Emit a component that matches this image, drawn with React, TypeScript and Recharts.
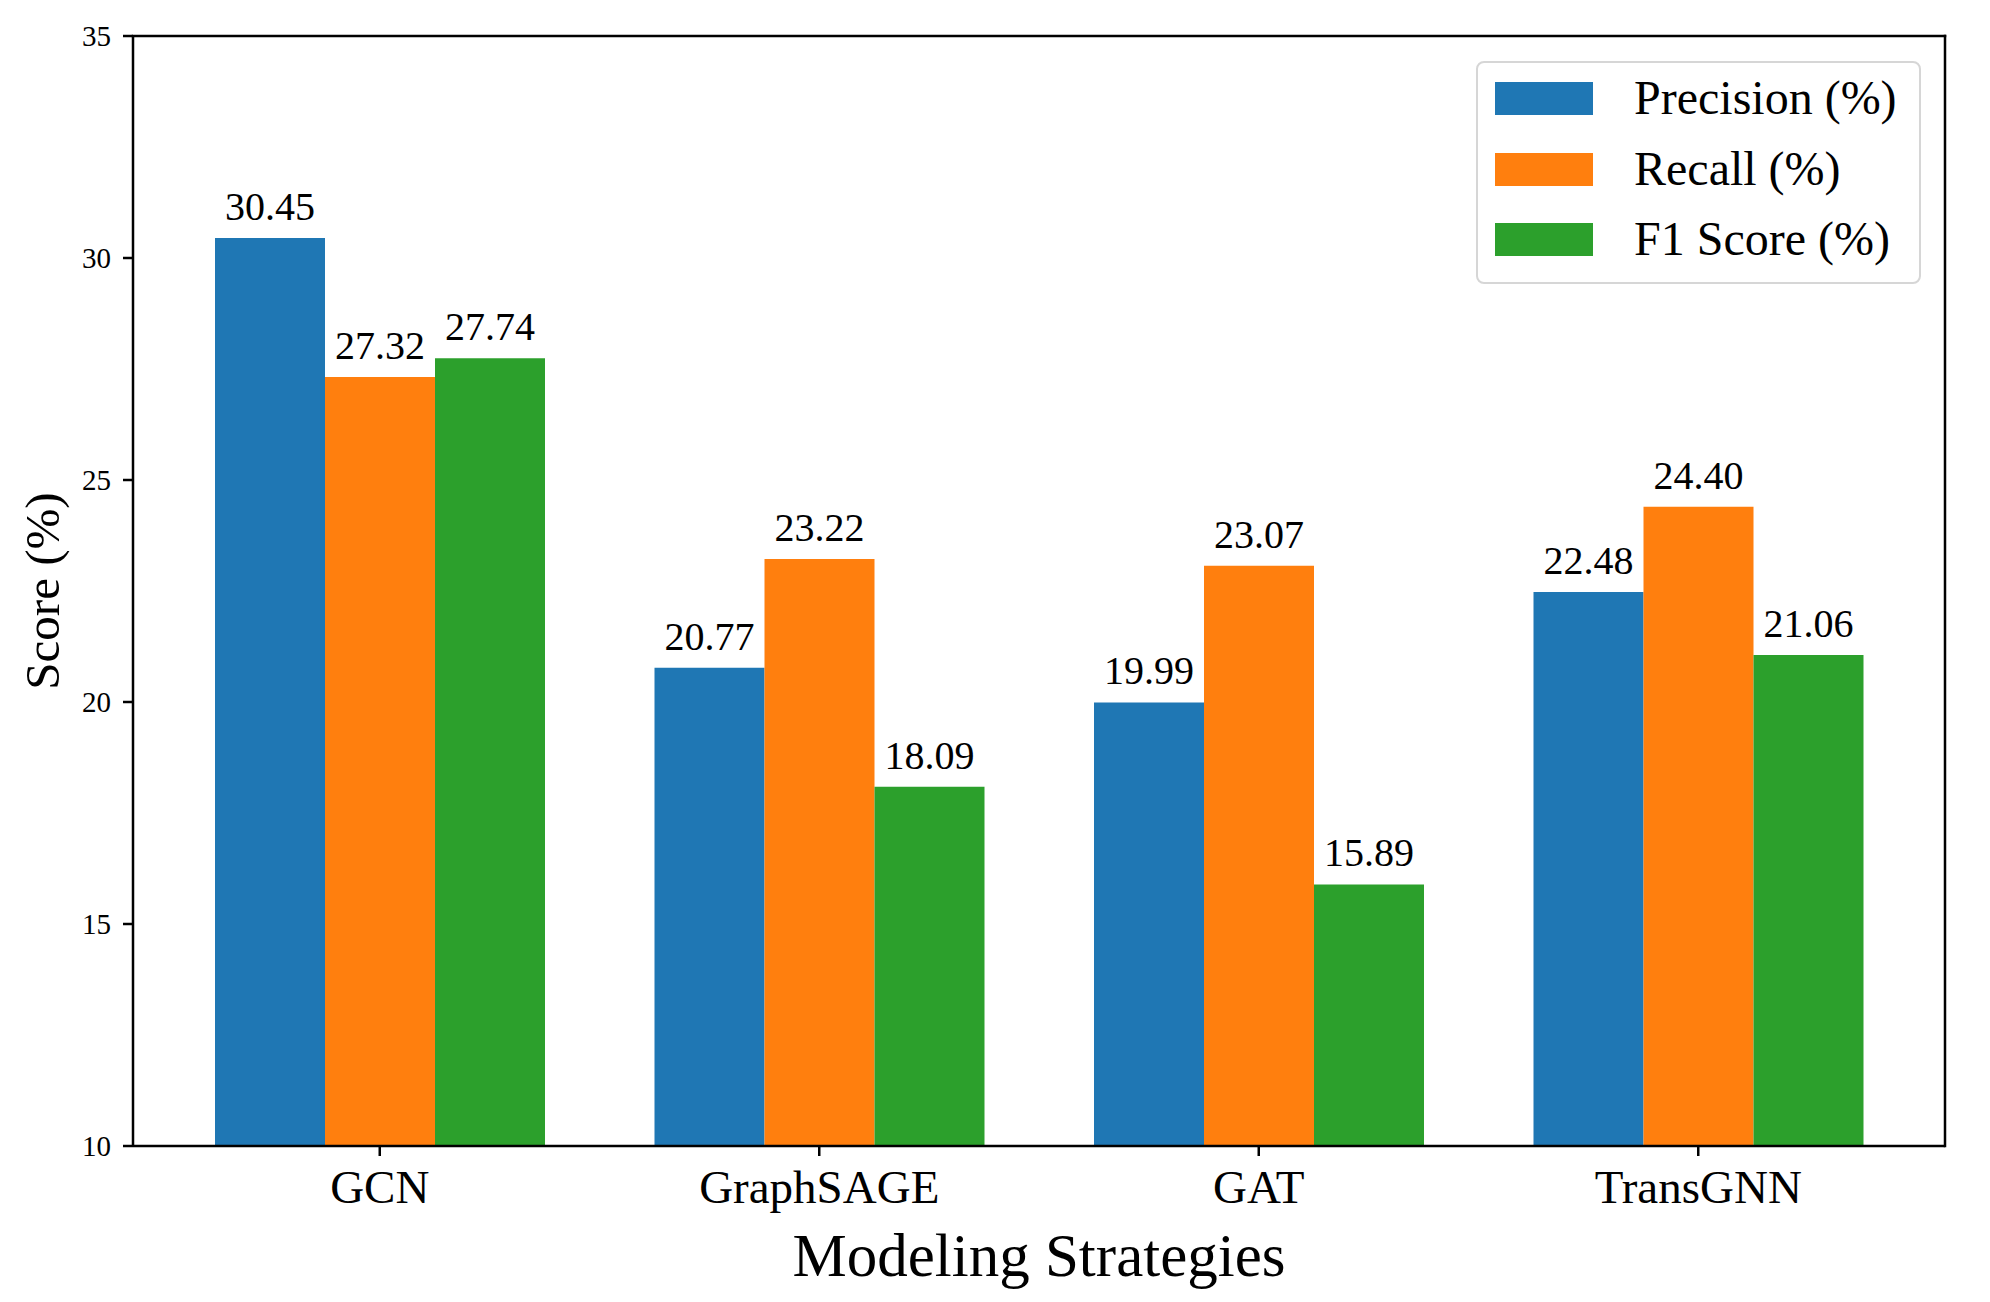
import * as Recharts from 'recharts';
import { BarChart, Bar, XAxis, YAxis, Legend, LabelList } from 'recharts';

// data
const categories = ['GCN', 'GraphSAGE', 'GAT', 'TransGNN'];
const precision = [30.45, 20.77, 19.99, 22.48];
const recall = [27.32, 23.22, 23.07, 24.4];
const f1Score = [27.74, 18.09, 15.89, 21.06];
const yTicks = [10, 15, 20, 25, 30, 35];

const seriesNames = ['Precision (%)', 'Recall (%)', 'F1 Score (%)'];
const seriesKeys = ['precision', 'recall', 'f1'];
const colors = ['#1f77b4', '#ff7f0e', '#2ca02c'];

const data = categories.map((name, i) => ({
  name,
  precision: precision[i],
  recall: recall[i],
  f1: f1Score[i],
}));

const W = 1990;
const H = 1302;
const FONT = '"Liberation Serif", "DejaVu Serif", "Times New Roman", serif';

// plot-area hook (name differs between recharts 3 minor versions)
const usePlotBox: any = (Recharts as any).usePlotArea || (Recharts as any).useOffset;

// top + right spines, like the matplotlib box
function Frame() {
  const a = usePlotBox ? usePlotBox() : null;
  if (!a) return null;
  let x, y, w, h;
  if (a.width != null) {
    x = a.x; y = a.y; w = a.width; h = a.height;
  } else {
    x = a.left; y = a.top; w = W - a.left - a.right; h = H - a.top - a.bottom;
  }
  return (
    <g>
      <line x1={x} y1={y} x2={x + w} y2={y} stroke="#000" strokeWidth={2.5} strokeLinecap="square" />
      <line x1={x + w} y1={y} x2={x + w} y2={y + h} stroke="#000" strokeWidth={2.5} strokeLinecap="square" />
    </g>
  );
}

const valueLabel = (props: any) => {
  const { x, y, width, value } = props;
  return (
    <text
      x={x + width / 2}
      y={y - 18}
      textAnchor="middle"
      fontFamily={FONT}
      fontSize={40}
      fill="#000"
    >
      {Number(value).toFixed(2)}
    </text>
  );
};

const yLabel = (props: any) => {
  const { viewBox } = props;
  const cx = 42;
  const cy = viewBox.y + viewBox.height / 2;
  return (
    <text
      x={cx}
      y={cy}
      transform={`rotate(-90, ${cx}, ${cy})`}
      textAnchor="middle"
      dominantBaseline="central"
      fontFamily={FONT}
      fontSize={49}
      fill="#000"
    >
      Score (%)
    </text>
  );
};

const legendBox = () => (
  <div
    style={{
      position: 'relative',
      width: 445,
      height: 223,
      boxSizing: 'border-box',
      border: '2px solid #d6d6d6',
      borderRadius: 8,
      background: 'rgba(255,255,255,0.8)',
      fontFamily: FONT,
      fontSize: 48,
      color: '#000',
    }}
  >
    {seriesNames.map((n, i) => (
      <div key={n}>
        <div
          style={{
            position: 'absolute',
            left: 17,
            top: 19 + i * 70.5,
            width: 98,
            height: 33,
            background: colors[i],
          }}
        />
        <div
          style={{
            position: 'absolute',
            left: 156,
            top: 35 + i * 70.5,
            transform: 'translateY(-50%)',
            whiteSpace: 'nowrap',
            lineHeight: 1,
          }}
        >
          {n}
        </div>
      </div>
    ))}
  </div>
);

export default function App() {
  const axisStroke = { stroke: '#000', strokeWidth: 2.5 };
  return (
    <div style={{ position: 'absolute', left: 0, top: 0, background: '#fff' }}>
      <BarChart
        width={W}
        height={H}
        data={data}
        margin={{ top: 36, right: 45, bottom: 0, left: 0 }}
        barCategoryGap={55}
        barGap={0}
      >
        <XAxis
          dataKey="name"
          height={156}
          padding={{ left: 27, right: 27 }}
          axisLine={axisStroke}
          tickLine={axisStroke}
          tickSize={10}
          tickMargin={14}
          tick={{ fill: '#000', fontFamily: FONT, fontSize: 47 }}
          label={{
            value: 'Modeling Strategies',
            position: 'insideBottom',
            offset: 26,
            fill: '#000',
            fontFamily: FONT,
            fontSize: 61,
          }}
        />
        <YAxis
          width={133}
          domain={[10, 35]}
          ticks={yTicks}
          allowDataOverflow
          axisLine={axisStroke}
          tickLine={axisStroke}
          tickSize={10}
          tickMargin={12}
          tick={{ fill: '#000', fontFamily: FONT, fontSize: 29 }}
          label={{ content: yLabel }}
        />
        <Legend
          layout="vertical"
          align="center"
          verticalAlign="middle"
          content={legendBox}
          wrapperStyle={{ left: 1476, top: 61, width: 445, height: 223 }}
        />
        {seriesKeys.map((k, i) => (
          <Bar
            key={k}
            dataKey={k}
            name={seriesNames[i]}
            fill={colors[i]}
            isAnimationActive={false}
          >
            <LabelList dataKey={k} content={valueLabel} />
          </Bar>
        ))}
        <Frame />
      </BarChart>
    </div>
  );
}
